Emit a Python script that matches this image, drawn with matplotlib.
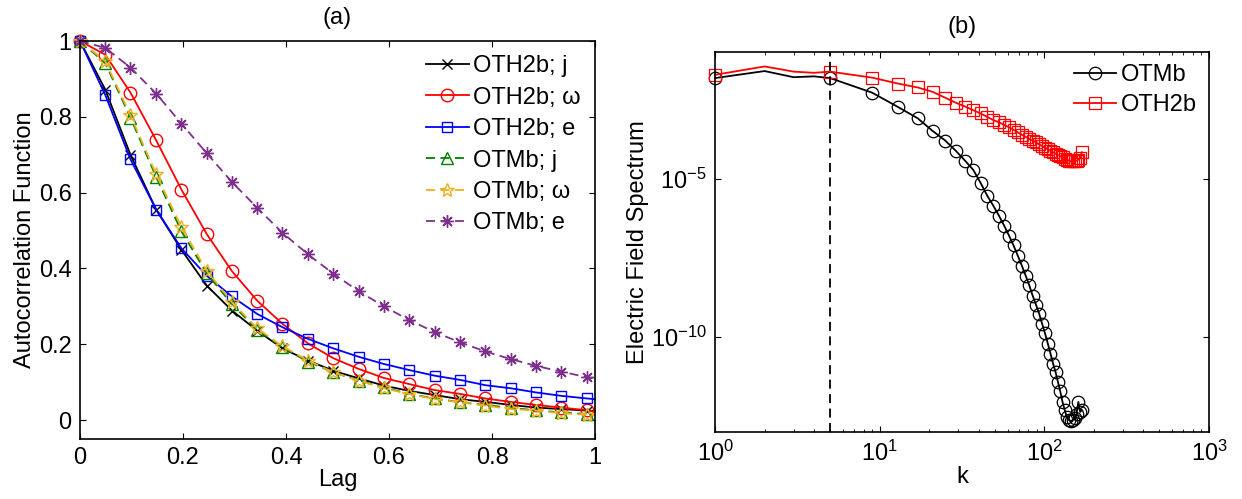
import numpy as np
import matplotlib
matplotlib.use('Agg')
import matplotlib.pyplot as plt

plt.rcParams['font.family'] = ['Liberation Sans', 'DejaVu Sans']
plt.rcParams['mathtext.fontset'] = 'custom'
plt.rcParams['mathtext.rm'] = 'Liberation Sans'
plt.rcParams['mathtext.it'] = 'Liberation Sans:italic'
plt.rcParams['font.size'] = 17

# (a) autocorrelation vs lag (last point is the line end at lag=1, no marker)
lag = [0, 0.049, 0.098, 0.148, 0.197, 0.246, 0.295, 0.344, 0.393, 0.443, 0.492,
       0.541, 0.590, 0.639, 0.689, 0.738, 0.787, 0.836, 0.885, 0.934, 0.984, 1.0]
oth2b_j = [1.0, 0.872, 0.700, 0.555, 0.449, 0.355, 0.289, 0.236, 0.189, 0.157, 0.130,
           0.110, 0.091, 0.077, 0.066, 0.055, 0.048, 0.040, 0.033, 0.029, 0.025, 0.024]
oth2b_w = [1.0, 0.964, 0.864, 0.738, 0.608, 0.491, 0.393, 0.315, 0.254, 0.202, 0.163,
           0.135, 0.111, 0.095, 0.079, 0.069, 0.057, 0.048, 0.040, 0.033, 0.026, 0.022]
oth2b_e = [1.0, 0.858, 0.688, 0.555, 0.453, 0.381, 0.326, 0.280, 0.245, 0.214, 0.189,
           0.167, 0.148, 0.132, 0.117, 0.106, 0.092, 0.084, 0.073, 0.064, 0.057, 0.055]
otmb_j = [1.0, 0.942, 0.798, 0.641, 0.498, 0.387, 0.306, 0.238, 0.192, 0.154, 0.126,
          0.104, 0.086, 0.069, 0.057, 0.047, 0.040, 0.032, 0.026, 0.020, 0.016, 0.015]
otmb_w = [1.0, 0.947, 0.804, 0.648, 0.509, 0.394, 0.311, 0.242, 0.195, 0.157, 0.126,
          0.104, 0.084, 0.069, 0.055, 0.047, 0.038, 0.029, 0.025, 0.018, 0.014, 0.013]
otmb_e = [1.0, 0.982, 0.930, 0.861, 0.782, 0.704, 0.628, 0.560, 0.494, 0.437, 0.386,
          0.340, 0.300, 0.264, 0.232, 0.205, 0.181, 0.161, 0.143, 0.128, 0.113, 0.109]

# (b) electric field spectrum vs k (markers every 4th k from k=1)
k = [1, 2, 3, 4, 5, 9, 13, 17, 21, 25, 29, 33, 37, 41, 45, 49, 53, 57, 61, 65, 69,
     73, 77, 81, 85, 89, 93, 97, 101, 105, 109, 113, 117, 121, 125, 129, 133, 137,
     141, 145, 149, 153, 157, 161, 165, 169]
spec_otmb = [1.5e-2, 2.5e-2, 1.6e-2, 1.7e-2, 1.5e-2, 5.2e-3, 1.8e-3, 8.1e-4, 3.2e-4,
             1.6e-4, 7.6e-5, 3.7e-5, 1.9e-5, 7.4e-6, 2.9e-6, 1.4e-6, 6.8e-7, 3.3e-7,
             1.6e-7, 7.8e-8, 3.7e-8, 1.8e-8, 8.7e-9, 4.3e-9, 2.0e-9, 1.05e-9, 5.5e-10,
             2.6e-10, 1.3e-10, 6.2e-11, 3.0e-11, 1.45e-11, 7.9e-12, 3.8e-12, 1.9e-12,
             8.9e-13, 4.9e-13, 3.0e-13, 2.4e-13, 2.2e-13, 2.4e-13, 2.75e-13, 3.7e-13,
             8.9e-13, 4.3e-13, 4.9e-13]
spec_oth2b = [1.9e-2, 3.5e-2, 2.4e-2, 2.2e-2, 2.4e-2, 1.55e-2, 1.0e-2, 7.6e-3, 5.5e-3,
              3.6e-3, 2.5e-3, 1.9e-3, 1.45e-3, 1.15e-3, 8.9e-4, 7.1e-4, 6.0e-4, 5.0e-4,
              4.2e-4, 3.5e-4, 2.9e-4, 2.45e-4, 2.1e-4, 1.8e-4, 1.6e-4, 1.4e-4, 1.2e-4,
              1.07e-4, 9.5e-5, 8.5e-5, 7.6e-5, 6.8e-5, 6.2e-5, 5.6e-5, 5.1e-5, 4.7e-5,
              4.3e-5, 4.0e-5, 3.7e-5, 3.5e-5, 3.5e-5, 3.55e-5, 3.7e-5, 4.0e-5, 4.6e-5,
              6.8e-5]
k_cut = 5

fig = plt.figure(figsize=(12.42, 4.99), dpi=100)
ax1 = fig.add_axes([0.0644, 0.1202, 0.4147, 0.7976])
ax2 = fig.add_axes([0.5757, 0.1343, 0.3977, 0.7615])

mk = list(range(len(lag) - 1))
series = [
    (oth2b_j, 'OTH2b; j', 'k', '-', 'x', 7),
    (oth2b_w, 'OTH2b; ω', 'r', '-', 'o', 9),
    (oth2b_e, 'OTH2b; e', 'b', '-', 's', 7),
    (otmb_j, 'OTMb; j', '#008000', '--', '^', 8),
    (otmb_w, 'OTMb; ω', '#EDB120', '--', '*', 10),
    (otmb_e, 'OTMb; e', '#7E2F8E', '--', (8, 2, 0), 9),
]
for vals, lab, col, ls, m, ms in series:
    ax1.plot(lag, vals, color=col, ls=ls, lw=1.3, marker=m, ms=ms, mfc='none',
             mec=col, mew=1.0, markevery=mk, label=lab, clip_on=False,
             dashes=(5, 3) if ls == '--' else (None, None))

ax1.set_xlim(0, 1)
ax1.set_ylim(-0.05, 1)
ax1.set_xticks([0, 0.2, 0.4, 0.6, 0.8, 1])
ax1.set_xticklabels(['0', '0.2', '0.4', '0.6', '0.8', '1'])
ax1.set_yticks([0, 0.2, 0.4, 0.6, 0.8, 1])
ax1.set_yticklabels(['0', '0.2', '0.4', '0.6', '0.8', '1'])
ax1.set_xlabel('Lag', labelpad=0)
ax1.set_ylabel('Autocorrelation Function', labelpad=2)
ax1.set_title('(a)', fontsize=17, pad=12)
ax1.legend(loc='upper right', frameon=False, handlelength=1.8, handletextpad=0.2,
           labelspacing=0.4, borderaxespad=0.2, fontsize=17)

mkb = [0] + list(range(4, len(k)))
ax2.plot(k, spec_otmb, color='k', lw=1.3, marker='o', ms=9, mfc='none', mew=0.9,
         markevery=mkb, label='OTMb', clip_on=False)
ax2.plot(k, spec_oth2b, color='r', lw=1.3, marker='s', ms=8, mfc='none', mew=0.9,
         markevery=mkb, label='OTH2b', clip_on=False)
ax2.axvline(k_cut, color='k', ls='--', lw=1.3, dashes=(5, 3))
ax2.set_xscale('log')
ax2.set_yscale('log')
ax2.set_xlim(1, 1000)
ax2.set_ylim(1e-13, 1e-1)
ax2.set_yticks([1e-10, 1e-5])
ax2.yaxis.set_minor_locator(matplotlib.ticker.NullLocator())
ax2.set_xlabel('k', labelpad=0)
ax2.set_ylabel('Electric Field Spectrum', labelpad=1)
ax2.set_title('(b)', fontsize=17, pad=14)
ax2.legend(loc='upper right', frameon=False, handlelength=1.8, handletextpad=0.2,
           labelspacing=0.35, borderaxespad=0.1, fontsize=17)

for ax in (ax1, ax2):
    ax.tick_params(which='both', direction='in', top=True, right=True)
    ax.tick_params(which='major', length=4, width=0.8, pad=6)
    ax.tick_params(which='minor', length=2.5, width=0.6)
    for s in ax.spines.values():
        s.set_linewidth(1.2)

fig.savefig('out.png', dpi=100)
